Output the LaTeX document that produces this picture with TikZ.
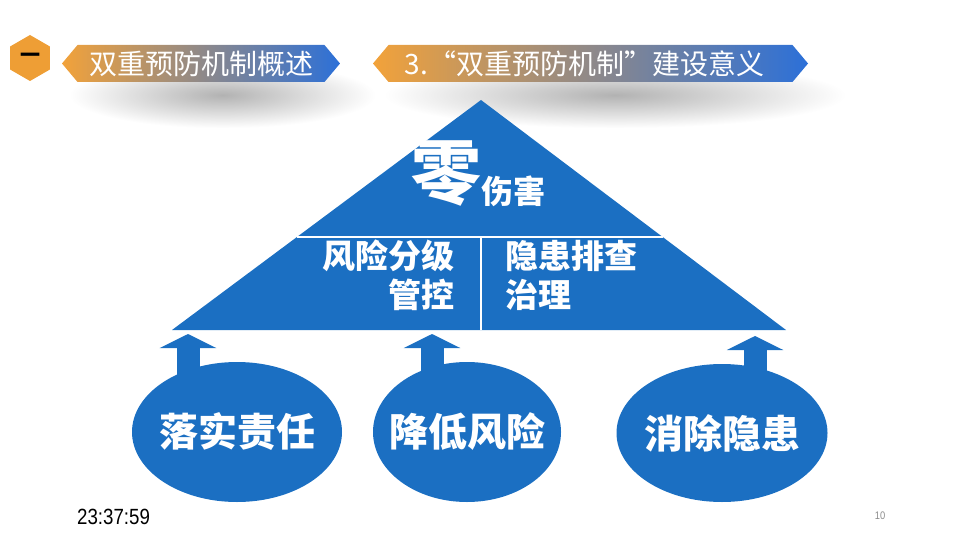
\documentclass[tikz,border=0pt]{standalone}
\usepackage{fontspec}
\usepackage{xcolor}
\usetikzlibrary{shapes.geometric,shapes.symbols,arrows.meta,calc,backgrounds,fadings}

\newfontfamily\cjk{Noto Sans CJK SC}
\newfontfamily\clockfont[FakeStretch=0.85]{Liberation Sans}

\definecolor{pyrblue}{HTML}{1B6FC2}
\definecolor{bannerorange}{HTML}{F2A23A}
\definecolor{bannerblue}{HTML}{2C70D8}
\definecolor{hexorange}{HTML}{EE9E35}

\tikzfading[name=softshadow, inner color=transparent!0, outer color=transparent!100]

\tikzset{
  banner/.style={signal, signal to=west and east, signal pointer angle=100,
    left color=bannerorange, right color=bannerblue, draw=none,
    text=white, inner sep=0pt, font=\cjk\fontsize{28}{28}\selectfont},
  bannershade/.style={fill=black!30, draw=none, path fading=softshadow},
  blob/.style={ellipse, fill=pyrblue, draw=none},
  blobtext/.style={text=white, inner sep=0pt, font=\cjk\bfseries\fontsize{39}{39}\selectfont},
  pyrtext/.style={text=white, inner sep=0pt, font=\cjk\bfseries\fontsize{33}{39}\selectfont},
  divider/.style={white, line width=2.5pt},
  lift/.style={pyrblue, line width=23pt, -{Triangle[width=56pt,length=14pt]}}
}

\begin{document}
\begin{tikzpicture}[x=1pt,y=-1pt]
\useasboundingbox (0,0) rectangle (960,540);

% heading bar
\node[regular polygon, regular polygon sides=6, shape border rotate=30, fill=hexorange,
  minimum size=46pt, inner sep=0pt, font=\cjk\bfseries\fontsize{20}{20}\selectfont] (num) at (30,58) {一};
\fill[bannershade] (70,62) rectangle (375,128);
\fill[bannershade] (385,62) rectangle (845,128);
\node[banner, minimum width=278pt, minimum height=37pt] (title) at (201,63.5) {双重预防机制概述};
\node[banner, minimum width=435pt, minimum height=37pt] (subtitle) at (590.5,63.5) {\hspace*{-12pt}3.“双重预防机制”建设意义};

% pyramid
\coordinate (apex) at (481,100);
\coordinate (bl) at (172,330);
\coordinate (br) at (786,330);
\coordinate (mid) at (481,330);
\fill[pyrblue] (apex) -- (br) -- (bl) -- cycle;
\draw[divider] ($(apex)!0.596!(bl)$) -- ($(apex)!0.596!(br)$);
\draw[divider] ($(apex)!0.596!(mid)$) -- (mid);

\node[pyrtext, font=\cjk\bfseries\fontsize{70}{70}\selectfont] (zero) at (446,174) {零};
\node[pyrtext, font=\cjk\bfseries\fontsize{32}{32}\selectfont, anchor=base west] (harm) at ([xshift=0pt,yshift=-5pt]zero.base east) {伤害};
\node[pyrtext, align=right, anchor=north east] (risk) at (455,240) {风险分级\\管控};
\node[pyrtext, align=left, anchor=north west] (hazard) at (505,240) {隐患排查\\治理};

% three bases
\node[blob, minimum width=210pt, minimum height=140pt, label={[blobtext]center:落实责任}] (duty) at (237,432) {};
\node[blob, minimum width=188pt, minimum height=140pt, label={[blobtext]center:降低风险}] (lower) at (467,432) {};
\node[blob, minimum width=211pt, minimum height=138pt, label={[blobtext]center:消除隐患}] (clear) at (722,433) {};

\coordinate (a1) at (188,334);
\coordinate (a2) at (432,334);
\coordinate (a3) at (755,336);
\begin{scope}[on background layer]
\draw[lift] (a1 |- duty.center) -- (a1);
\draw[lift] (a2 |- lower.center) -- (a2);
\draw[lift] (a3 |- clear.center) -- (a3);
\end{scope}

% footer
\node[anchor=west, inner sep=0pt, font=\clockfont\fontsize{22}{22}\selectfont] (clock) at (77,517) {23:37:59};
\node[inner sep=0pt, text=black!45, font=\clockfont\fontsize{11}{11}\selectfont] (page) at (880,516) {10};
\end{tikzpicture}
\end{document}
